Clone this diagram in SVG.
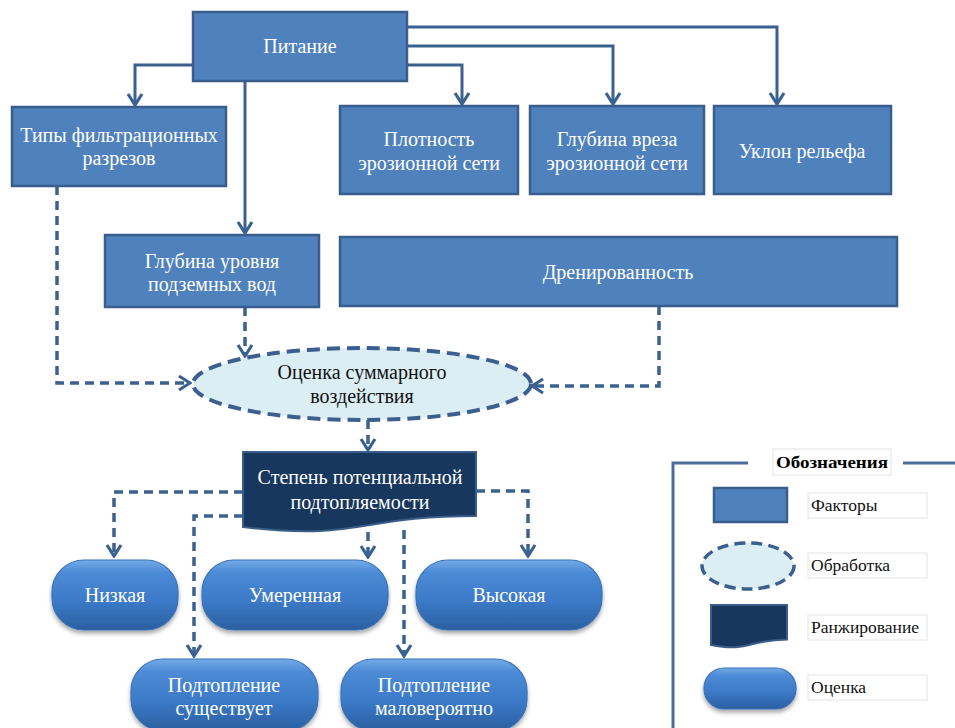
<svg xmlns="http://www.w3.org/2000/svg" width="955" height="728" viewBox="0 0 955 728">
<defs>
<style>
.box{fill:#4f81bd;stroke:#3a5e8c;stroke-width:2.5}
.t{font-family:"Liberation Serif","Times New Roman",serif;font-size:20px;text-anchor:middle}
.w{fill:#ffffff}
.k{fill:#111111}
.sol{fill:none;stroke:#3b6190;stroke-width:3}
.dash{fill:none;stroke:#3b6190;stroke-width:3.5;stroke-dasharray:9 6}
.proc{fill:#daeef3;stroke:#3d5f8f;stroke-width:4;stroke-dasharray:13 7}
.rank{fill:#17375e;stroke:#3a5d8a;stroke-width:2}
.pill{fill:url(#pg);stroke:#3a72b8;stroke-width:1.2;filter:url(#sh)}
.lbl{fill:#ffffff;stroke:#e4e4e4;stroke-width:1}
.lt{font-family:"Liberation Serif","Times New Roman",serif;font-size:17.5px;fill:#111111}
</style>
<linearGradient id="pg" x1="0" y1="0" x2="0" y2="1">
<stop offset="0" stop-color="#74aae6"/>
<stop offset="0.18" stop-color="#4d8bd6"/>
<stop offset="0.6" stop-color="#3b79c7"/>
<stop offset="1" stop-color="#2b5f9f"/>
</linearGradient>
<filter id="sh" x="-10%" y="-10%" width="120%" height="130%">
<feDropShadow dx="0" dy="3" stdDeviation="2" flood-color="#000000" flood-opacity="0.35"/>
</filter>
<marker id="arr" markerUnits="userSpaceOnUse" viewBox="-14 -10 16 20" refX="0" refY="0" markerWidth="16" markerHeight="20" orient="auto">
<path d="M-11,-7 L0,0 L-11,7" fill="none" stroke="#3b6190" stroke-width="3.2"/>
</marker>
</defs>

<g id="connectors">
<path class="sol" d="M193,65 H135 V105" marker-end="url(#arr)"/>
<path class="sol" d="M245,81 V233" marker-end="url(#arr)"/>
<path class="sol" d="M407,65 H462 V104" marker-end="url(#arr)"/>
<path class="sol" d="M407,46 H613 V104" marker-end="url(#arr)"/>
<path class="sol" d="M407,27 H777 V104" marker-end="url(#arr)"/>
<path class="dash" d="M57,186 V383 H190" marker-end="url(#arr)"/>
<path class="dash" d="M245,307 V356" marker-end="url(#arr)"/>
<path class="dash" d="M659,306 V386 H532" marker-end="url(#arr)"/>
<path class="dash" d="M368,420 V450" marker-end="url(#arr)"/>
<path class="dash" d="M243,492 H114 V556" marker-end="url(#arr)"/>
<path class="dash" d="M243,516 H194 V656" marker-end="url(#arr)"/>
<path class="dash" d="M476,491 H528 V556" marker-end="url(#arr)"/>
<path class="dash" d="M368,532 V557" marker-end="url(#arr)"/>
<path class="dash" d="M404,530 V656" marker-end="url(#arr)"/>
</g>

<g id="pitanie">
<rect class="box" x="193" y="12" width="214" height="69"/>
<text class="t w" x="300" y="53">Питание</text>
</g>
<g id="tipy">
<rect class="box" x="12" y="107" width="214" height="79"/>
<text class="t w" x="119" y="142">Типы фильтрационных</text>
<text class="t w" x="119" y="165">разрезов</text>
</g>
<g id="plotnost">
<rect class="box" x="340" y="106" width="178" height="88"/>
<text class="t w" x="429" y="146">Плотность</text>
<text class="t w" x="429" y="170">эрозионной сети</text>
</g>
<g id="glubina-vreza">
<rect class="box" x="530" y="106" width="174" height="88"/>
<text class="t w" x="617" y="146">Глубина вреза</text>
<text class="t w" x="617" y="170">эрозионной сети</text>
</g>
<g id="uklon">
<rect class="box" x="714" y="106" width="177" height="88"/>
<text class="t w" x="802" y="158">Уклон рельефа</text>
</g>
<g id="glubina-urovnya">
<rect class="box" x="105" y="235" width="214" height="72"/>
<text class="t w" x="212" y="268">Глубина уровня</text>
<text class="t w" x="212" y="291">подземных вод</text>
</g>
<g id="drenirovannost">
<rect class="box" x="340" y="237" width="557" height="69"/>
<text class="t w" x="618" y="279">Дренированность</text>
</g>
<g id="ocenka">
<ellipse class="proc" cx="362" cy="384" rx="169" ry="36"/>
<text class="t k" x="362" y="379">Оценка суммарного</text>
<text class="t k" x="362" y="403">воздействия</text>
</g>
<g id="stepen">
<path class="rank" d="M243,452 H476 V516 C359.5,516 359.5,541 243,527 Z"/>
<text class="t w" x="360" y="484">Степень потенциальной</text>
<text class="t w" x="360" y="509">подтопляемости</text>
</g>
<g id="nizkaya">
<rect class="pill" x="52" y="560" width="126" height="70" rx="32"/>
<text class="t w" x="115" y="602">Низкая</text>
</g>
<g id="umerennaya">
<rect class="pill" x="202" y="560" width="186" height="70" rx="32"/>
<text class="t w" x="295" y="602">Умеренная</text>
</g>
<g id="vysokaya">
<rect class="pill" x="416" y="560" width="186" height="70" rx="32"/>
<text class="t w" x="509" y="602">Высокая</text>
</g>
<g id="podtoplenie-sushchestvuet">
<rect class="pill" x="131" y="659" width="187" height="72" rx="32"/>
<text class="t w" x="224" y="692">Подтопление</text>
<text class="t w" x="224" y="715">существует</text>
</g>
<g id="podtoplenie-maloveroyatno">
<rect class="pill" x="341" y="659" width="186" height="72" rx="32"/>
<text class="t w" x="434" y="692">Подтопление</text>
<text class="t w" x="434" y="715">маловероятно</text>
</g>

<g id="legend">
<path d="M748,463 H673 V728" fill="none" stroke="#4a6d9a" stroke-width="3"/>
<path d="M903,463 H955" fill="none" stroke="#4a6d9a" stroke-width="3"/>
<rect class="lbl" x="773" y="449" width="118" height="26"/>
<text x="776" y="468" textLength="112" lengthAdjust="spacingAndGlyphs" style="font-family:'Liberation Serif','Times New Roman',serif;font-size:17px;font-weight:bold;fill:#000">Обозначения</text>
<rect class="box" x="714" y="488" width="73" height="34"/>
<rect class="lbl" x="808" y="493" width="119" height="25"/>
<text class="lt" x="811" y="511">Факторы</text>
<ellipse class="proc" cx="748" cy="566" rx="46" ry="23" style="stroke-width:3.5;stroke-dasharray:11 6"/>
<rect class="lbl" x="808" y="553" width="119" height="25"/>
<text class="lt" x="811" y="571">Обработка</text>
<path class="rank" d="M711,605 H787 V639.5 C749,639.5 749,652.6 711,645 Z"/>
<rect class="lbl" x="808" y="615" width="119" height="25"/>
<text class="lt" x="811" y="633">Ранжирование</text>
<rect class="pill" x="704" y="668" width="92" height="41" rx="20"/>
<rect class="lbl" x="808" y="675" width="119" height="25"/>
<text class="lt" x="811" y="693">Оценка</text>
</g>
</svg>
